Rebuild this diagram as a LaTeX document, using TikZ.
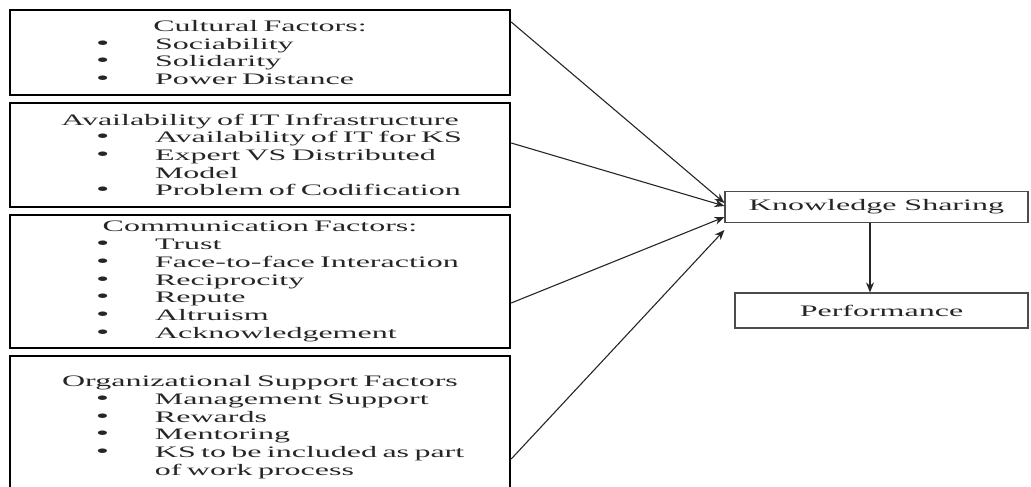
\documentclass[tikz,border=0pt]{standalone}
\usepackage{fontspec}
\setmainfont{Liberation Serif}[FakeStretch=2.0]
\usetikzlibrary{arrows.meta}

\newcommand{\fitem}[1]{\\\hspace*{86pt}\makebox[59pt][l]{\fontsize{19}{17.7}\selectfont\textbullet}#1}
\newcommand{\fcont}[1]{\\\hspace*{145pt}#1}
\newcommand{\fhead}[1]{\makebox[\linewidth][c]{#1}}

\begin{document}
\begin{tikzpicture}
  [x=1pt,y=-1pt,
   factor/.style={draw,line width=2.4pt,inner sep=0pt,text width=500pt,minimum width=500pt,
     align=left,text=black!85,font=\fontsize{16}{17.7}\selectfont},
   result/.style={draw,line width=1.1pt,draw=black!70,inner sep=0pt,text=black!85,
     font=\fontsize{16}{17.7}\selectfont},
   link/.style={line width=1.1pt,draw=black!85,-{Stealth[length=10pt,width=8pt]}}]
  \useasboundingbox (0,0) rectangle (1031,487);
  \clip (0,0) rectangle (1031,487);

  \node[factor,minimum height=85pt] (cult) at (260,52.5)
    {\fhead{Cultural Factors:}\fitem{Sociability}\fitem{Solidarity}\fitem{Power Distance}};
  \node[factor,minimum height=104pt] (infra) at (260,155)
    {\fhead{Availability of IT Infrastructure}\fitem{Availability of IT for KS}
     \fitem{Expert VS Distributed}\fcont{Model}\fitem{Problem of Codification}};
  \node[factor,minimum height=133pt] (comm) at (260,281.5)
    {\fhead{Communication Factors:}\fitem{Trust}\fitem{Face-to-face Interaction}
     \fitem{Reciprocity}\fitem{Repute}\fitem{Altruism}\fitem{Acknowledgement}};
  \node[factor,minimum height=142pt] (org) at (260,427)
    {\fhead{Organizational Support Factors}\fitem{Management Support}\fitem{Rewards}
     \fitem{Mentoring}\fitem{KS to be included as part}\fcont{of work process}};

  \node[result,minimum width=303pt,minimum height=31pt] (ks) at (876.5,207) {Knowledge Sharing};
  \node[result,minimum width=293pt,minimum height=35pt] (perf) at (881.5,310.5) {Performance};

  \draw[link] ([yshift=30.5pt]cult.east) -- ([yshift=4pt]ks.west);
  \draw[link] ([yshift=12pt]infra.east) -- ([yshift=1pt]ks.west);
  \draw[link] ([yshift=-21.5pt]comm.east) -- ([yshift=-10pt]ks.west);
  \draw[link] ([yshift=-32pt]org.east) -- ([yshift=-23pt]ks.west);
  \draw[link] ([xshift=-6.5pt]ks.south) -- ([xshift=-11.5pt]perf.north);

\end{tikzpicture}
\end{document}
